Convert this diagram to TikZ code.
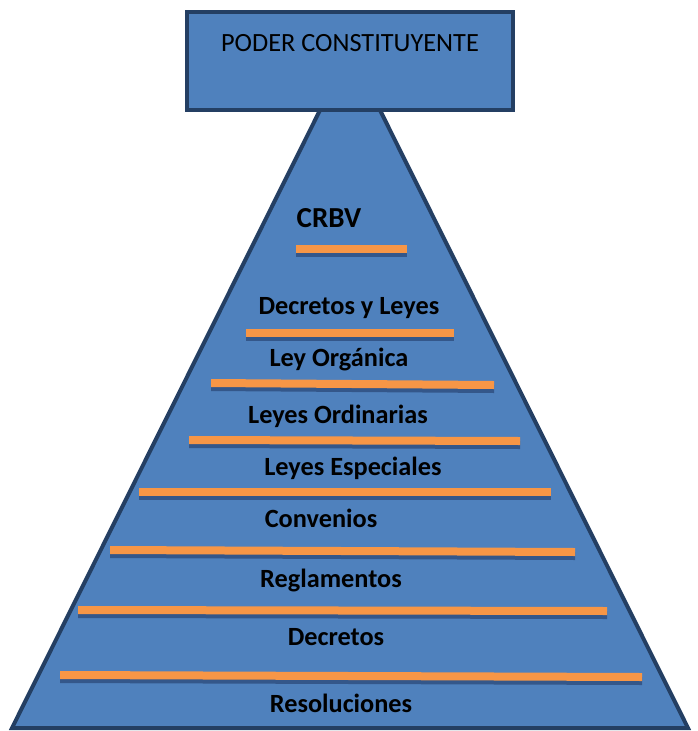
\documentclass[tikz,border=0pt]{standalone}
\usepackage{fontspec}
\setmainfont{Carlito}
\definecolor{pyrfill}{HTML}{4F81BD}
\definecolor{pyredge}{HTML}{243F63}
\definecolor{barorange}{HTML}{F79646}
\definecolor{barshadow}{HTML}{34578A}
\begin{document}
\begin{tikzpicture}[x=1pt,y=-1pt,
  outline/.style={draw=pyredge,line width=4pt,fill=pyrfill,line join=miter},
  level/.style={anchor=base,font=\fontsize{26.3}{30}\selectfont\bfseries,text=black,inner sep=0pt},
  toplabel/.style={anchor=base,font=\fontsize{26.3}{30}\selectfont,text=black,inner sep=0pt}]
\useasboundingbox (0,0) rectangle (697,731);
% pyramid body
\path[outline] (350,50) -- (12,728) -- (688,728) -- cycle;
% dividing bars: left x, left top y, right x, right top y
\foreach \xa/\ya/\xb/\yb in {296/245/407/245, 246/329/454/329, 211/379/494/381,
    189/436/520/437, 139/488/551/488, 110/546/575/548, 78/606/607/607, 60/671/642/673}{
  \fill[barshadow] (\xa,\ya+4) -- (\xb,\yb+4) -- (\xb,\yb+12) -- (\xa,\ya+12) -- cycle;
  \fill[barorange] (\xa,\ya) -- (\xb,\yb) -- (\xb,\yb+8) -- (\xa,\ya+8) -- cycle;
}
% top box
\path[outline] (187,12) rectangle (513,110);
\node[toplabel] (poder) at (350,51) {PODER CONSTITUYENTE};
% level labels
\node[level,font=\fontsize{29}{33}\selectfont\bfseries] (crbv) at (329,227) {CRBV};
\node[level] (decleyes) at (349,314) {Decretos y Leyes};
\node[level] (organica) at (339,366) {Ley Orgánica};
\node[level] (ordinarias) at (338,423) {Leyes Ordinarias};
\node[level] (especiales) at (353,475) {Leyes Especiales};
\node[level] (convenios) at (321,527) {Convenios};
\node[level] (reglamentos) at (331,587) {Reglamentos};
\node[level] (decretos) at (336,645) {Decretos};
\node[level] (resoluciones) at (341,712) {Resoluciones};
\end{tikzpicture}
\end{document}
